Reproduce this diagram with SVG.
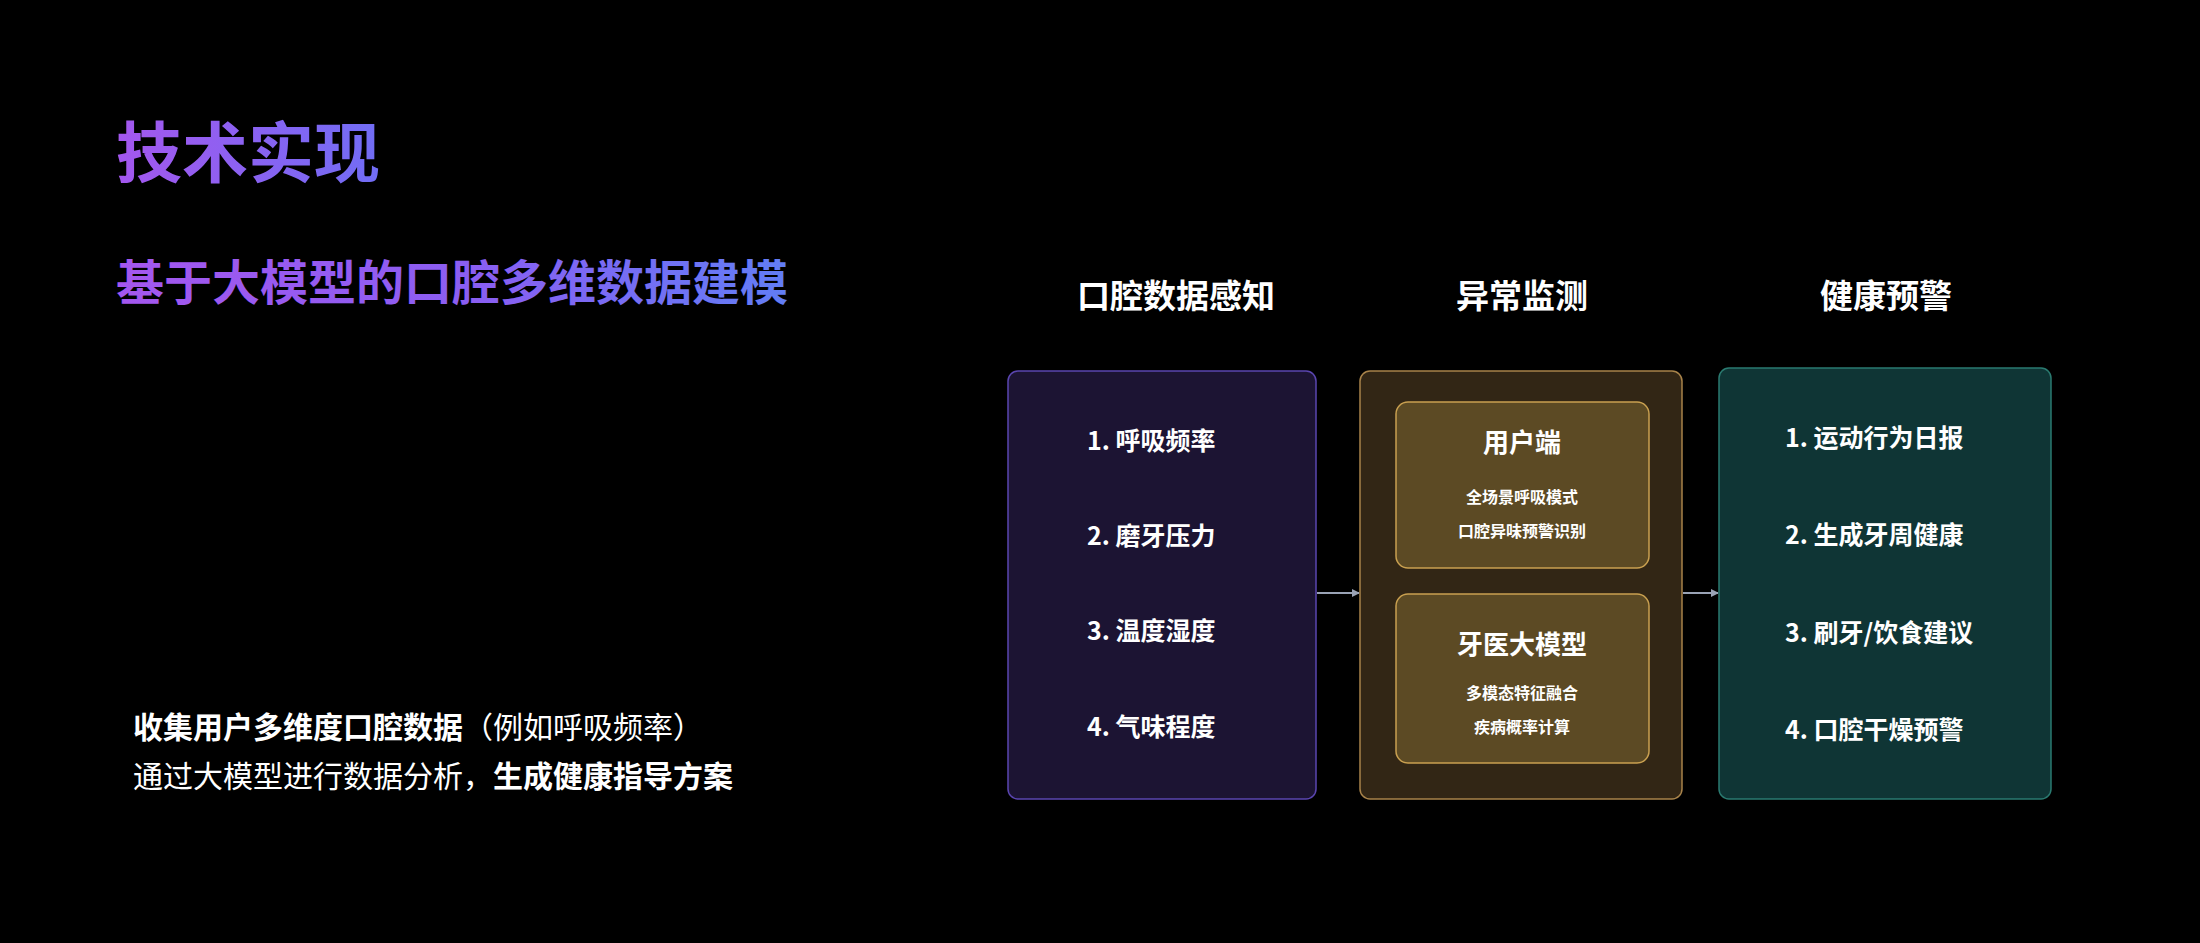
<svg xmlns="http://www.w3.org/2000/svg" width="2200" height="943" viewBox="0 0 2200 943">
<defs>
<linearGradient id="g1" x1="116" y1="0" x2="390" y2="0" gradientUnits="userSpaceOnUse"><stop offset="0" stop-color="#a457ee"/><stop offset="1" stop-color="#6f6ef5"/></linearGradient>
<linearGradient id="g2" x1="116" y1="0" x2="836" y2="0" gradientUnits="userSpaceOnUse"><stop offset="0" stop-color="#a457ee"/><stop offset="0.5" stop-color="#8a5ef2"/><stop offset="1" stop-color="#5b82f5"/></linearGradient>
<marker id="ar" markerWidth="8" markerHeight="8" refX="7" refY="4" orient="auto" markerUnits="userSpaceOnUse"><path d="M0,0 L8,4 L0,8 z" fill="#9aa3b5"/></marker>
<style>
text{font-family:"Noto Sans CJK SC","Noto Sans",sans-serif;fill:#fff}
.h{font-size:33px;font-weight:700;text-anchor:middle}
.it{font-size:25px;font-weight:700}
.st{font-size:26px;font-weight:700;text-anchor:middle}
.sm{font-size:16px;font-weight:700;text-anchor:middle}
.c{stroke:#9aa3b5;stroke-width:2;fill:none;marker-end:url(#ar)}
</style>
</defs>
<rect width="2200" height="943" fill="#000"/>
<text x="116" y="177" font-size="66" font-weight="700" fill="url(#g1)" style="fill:url(#g1)">技术实现</text>
<text x="116" y="300" font-size="48" font-weight="700" style="fill:url(#g2)">基于大模型的口腔多维数据建模</text>
<text x="133" y="738" font-size="30"><tspan font-weight="700">收集用户多维度口腔数据</tspan><tspan>（例如呼吸频率）</tspan></text>
<text x="133" y="787" font-size="30"><tspan>通过大模型进行数据分析，</tspan><tspan font-weight="700">生成健康指导方案</tspan></text>
<text class="h" x="1176" y="308">口腔数据感知</text>
<text class="h" x="1522" y="308">异常监测</text>
<text class="h" x="1886" y="308">健康预警</text>
<g id="connectors">
<line class="c" x1="1317" y1="593" x2="1359" y2="593"/>
<line class="c" x1="1683" y1="593" x2="1718" y2="593"/>
</g>
<g id="perception">
<rect x="1008" y="371" width="308" height="428" rx="10" fill="#1c1433" stroke="#5a45b0" stroke-width="1.5"/>
<text class="it" x="1087" y="450">1. 呼吸频率</text>
<text class="it" x="1087" y="545">2. 磨牙压力</text>
<text class="it" x="1087" y="640">3. 温度湿度</text>
<text class="it" x="1087" y="736">4. 气味程度</text>
</g>
<g id="monitor">
<rect x="1360" y="371" width="322" height="428" rx="10" fill="#322615" stroke="#a8834a" stroke-width="1.5"/>
</g>
<g id="user">
<rect x="1396" y="402" width="253" height="166" rx="12" fill="#5c4a24" stroke="#c9a050" stroke-width="1.5"/>
<text class="st" x="1522" y="452">用户端</text>
<text class="sm" x="1522" y="503">全场景呼吸模式</text>
<text class="sm" x="1522" y="537">口腔异味预警识别</text>
</g>
<g id="dentist">
<rect x="1396" y="594" width="253" height="169" rx="12" fill="#5c4a24" stroke="#c9a050" stroke-width="1.5"/>
<text class="st" x="1522" y="654">牙医大模型</text>
<text class="sm" x="1522" y="699">多模态特征融合</text>
<text class="sm" x="1522" y="733">疾病概率计算</text>
</g>
<g id="warning">
<rect x="1719" y="368" width="332" height="431" rx="10" fill="#0f3535" stroke="#2a7a70" stroke-width="1.5"/>
<text class="it" x="1785" y="447">1. 运动行为日报</text>
<text class="it" x="1785" y="544">2. 生成牙周健康</text>
<text class="it" x="1785" y="642">3. 刷牙/饮食建议</text>
<text class="it" x="1785" y="739">4. 口腔干燥预警</text>
</g>
</svg>
